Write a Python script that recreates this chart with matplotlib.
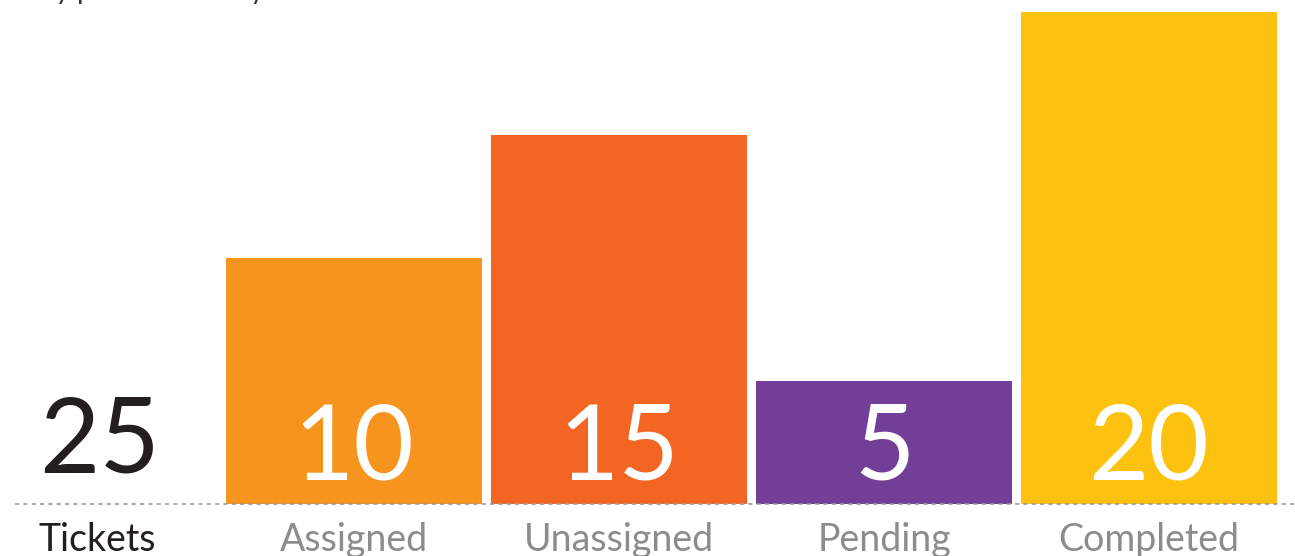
import matplotlib.pyplot as plt

categories = ["Tickets", "Assigned", "Unassigned", "Pending", "Completed"]
values = [25, 10, 15, 5, 20]
colors = ["none", "#F7941D", "#F36523", "#723E98", "#FDC110"]

plt.rcParams["font.family"] = ["Lato", "DejaVu Sans"]

fig = plt.figure(figsize=(12.95, 5.56), dpi=100)
ax = fig.add_axes([0, 0, 1, 1])
ax.set_xlim(-0.336, 4.551)
ax.set_ylim(-2.11, 20.49)
ax.axis("off")

# total column has no bar, only the big number
xs = list(range(1, len(categories)))
ax.bar(xs, values[1:], width=0.966, color=colors[1:], zorder=1)

ax.axhline(0, xmin=0.0116, xmax=1, color="#9a9a9a", lw=1.2,
           linestyle=(0, (2.5, 2.5)), zorder=2)

# big numbers
ax.text(-0.19, 1.3, str(values[0]), ha="left", va="baseline",
        fontsize=75, fontweight="normal", color="#231f20")
for x, v in zip(xs, values[1:]):
    ax.text(x, 0.98, str(v), ha="center", va="baseline",
            fontsize=75, fontweight="normal", color="white", zorder=3)

# category labels
ax.text(-0.19, -1.91, categories[0], ha="left", va="baseline",
        fontsize=27, fontweight="normal", color="#231f20")
for x, c in zip(xs, categories[1:]):
    ax.text(x, -1.91, c, ha="center", va="baseline",
            fontsize=27, fontweight="normal", color="#8c8c8c")

# title line that sits just above the visible area
fig.text(0.031, 1 + 1 / 556, "by period of today", ha="left", va="baseline",
         fontsize=20, color="#333333")

fig.savefig("out.png", dpi=100)
